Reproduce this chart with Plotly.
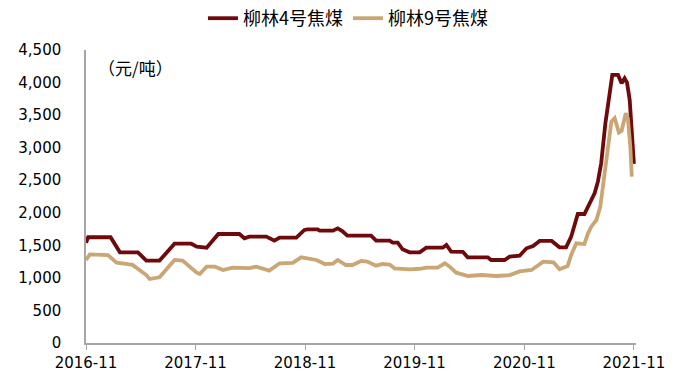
import plotly.graph_objects as go

# ---- data ----
dates_4 = ["2016-11-01","2016-11-08","2017-01-22","2017-02-22","2017-04-23","2017-05-21","2017-07-04",
           "2017-07-21","2017-08-23","2017-10-18","2017-11-05","2017-12-08","2018-01-16","2018-03-27",
           "2018-04-13","2018-04-29","2018-06-25","2018-07-22","2018-08-08","2018-10-03","2018-10-30",
           "2018-11-10","2018-12-13","2018-12-20","2019-02-02","2019-02-18","2019-03-05","2019-03-22",
           "2019-06-09","2019-06-26","2019-08-10","2019-08-20","2019-09-06","2019-09-22","2019-10-15",
           "2019-11-18","2019-12-10","2020-02-03","2020-02-15","2020-03-02","2020-04-10","2020-04-26",
           "2020-07-02","2020-07-13","2020-08-27","2020-09-13","2020-10-16","2020-11-08","2020-11-30",
           "2020-12-22","2021-01-31","2021-02-26","2021-03-20","2021-04-06","2021-04-17","2021-04-28",
           "2021-05-20","2021-06-06","2021-06-23","2021-07-04","2021-07-15","2021-07-29","2021-08-10",
           "2021-08-21","2021-09-09","2021-09-21","2021-10-01","2021-10-09","2021-10-18","2021-10-27",
           "2021-11-01"]
price_4 = [1540,1624,1624,1393,1393,1265,1265,
           1352,1525,1525,1480,1464,1674,1674,
           1608,1633,1633,1571,1618,1618,1736,
           1746,1746,1725,1725,1761,1720,1648,
           1648,1571,1571,1541,1541,1439,1393,
           1393,1464,1464,1505,1403,1400,1316,
           1316,1275,1275,1326,1340,1454,1490,
           1567,1567,1470,1470,1633,1812,1981,
           1981,2146,2299,2478,2760,3375,3784,
           4117,4117,3989,4066,4000,3732,3118,
           2750]

dates_9 = ["2016-11-01","2016-11-14","2017-01-13","2017-02-11","2017-03-26","2017-04-05","2017-05-21",
           "2017-06-01","2017-07-04","2017-08-23","2017-09-19","2017-11-05","2017-11-15","2017-12-08",
           "2018-01-05","2018-02-01","2018-03-04","2018-04-29","2018-05-22","2018-07-05","2018-08-08",
           "2018-09-21","2018-10-19","2018-11-17","2018-12-09","2019-01-06","2019-02-02","2019-02-18",
           "2019-03-17","2019-04-08","2019-05-07","2019-05-27","2019-06-26","2019-07-17","2019-08-10",
           "2019-08-26","2019-10-15","2019-11-18","2019-12-10","2020-01-17","2020-02-10","2020-02-26",
           "2020-03-19","2020-04-27","2020-06-11","2020-07-31","2020-09-13","2020-10-16","2020-11-25",
           "2021-01-03","2021-02-06","2021-02-26","2021-03-25","2021-04-06","2021-04-23","2021-05-20",
           "2021-06-01","2021-06-12","2021-06-29","2021-07-12","2021-07-23","2021-08-07","2021-08-18",
           "2021-08-29","2021-09-12","2021-09-21","2021-10-05","2021-10-12","2021-10-20","2021-10-25"]
price_9 = [1275,1362,1350,1234,1209,1200,1044,
           983,1009,1275,1265,1080,1060,1172,
           1172,1121,1157,1150,1172,1111,1224,
           1230,1316,1285,1275,1213,1220,1275,
           1198,1198,1260,1250,1188,1213,1205,
           1147,1132,1140,1157,1157,1224,1172,
           1080,1029,1044,1029,1044,1100,1121,
           1249,1240,1132,1183,1352,1531,1520,
           1685,1787,1889,2094,2504,3016,3400,
           3452,3232,3260,3528,3450,3016,2555]

series_names = ["柳林4号焦煤", "柳林9号焦煤"]
tick_vals = ["2016-11-01","2017-11-01","2018-11-01","2019-11-01","2020-11-01","2021-11-01"]
tick_text = ["2016-11","2017-11","2018-11","2019-11","2020-11","2021-11"]
unit_label = "（元/吨）"

TICKFONT = dict(family="DejaVu Sans, Liberation Sans, sans-serif", size=15, color="black")
CJK = "Noto Sans CJK SC, DejaVu Sans, sans-serif"

fig = go.Figure()
fig.add_trace(go.Scatter(x=dates_4, y=price_4, name=series_names[0], mode="lines",
                         line=dict(color="#6E0A0C", width=3.8)))
fig.add_trace(go.Scatter(x=dates_9, y=price_9, name=series_names[1], mode="lines",
                         line=dict(color="#C9A673", width=3.8)))

fig.update_layout(
    width=689, height=381,
    margin=dict(l=86, r=53, t=50, b=38, autoexpand=False),
    plot_bgcolor="white", paper_bgcolor="white",
    font=dict(family=CJK, size=14, color="black"),
    showlegend=True,
    legend=dict(orientation="h", xref="container", yref="container",
                x=0.505, xanchor="center", y=1.0, yanchor="top",
                font=dict(size=18, family=CJK), itemwidth=30, tracegroupgap=0,
                bgcolor="rgba(0,0,0,0)"),
    xaxis=dict(type="date", range=["2016-11-01", "2021-11-08"],
               tickvals=tick_vals, ticktext=tick_text,
               showgrid=False, zeroline=False, automargin=False,
               showline=True, linecolor="#A6A6A6", linewidth=1.5,
               ticks="outside", tickcolor="#A6A6A6", ticklen=5, tickwidth=1,
               tickfont=TICKFONT),
    yaxis=dict(range=[0, 4500], dtick=500, tickformat=",",
               showgrid=False, zeroline=False, automargin=False,
               showline=True, linecolor="#A6A6A6", linewidth=1.5,
               ticks="", ticklabelstandoff=20,
               tickfont=TICKFONT),
    annotations=[dict(text=unit_label, xref="paper", yref="paper",
                      x=0.018, y=0.99, xanchor="left", yanchor="top",
                      showarrow=False, font=dict(size=17, family=CJK))],
)

fig.write_html("out.html", config={"displayModeBar": False},
               post_script="document.body.style.margin='0';document.body.style.padding='0';")
